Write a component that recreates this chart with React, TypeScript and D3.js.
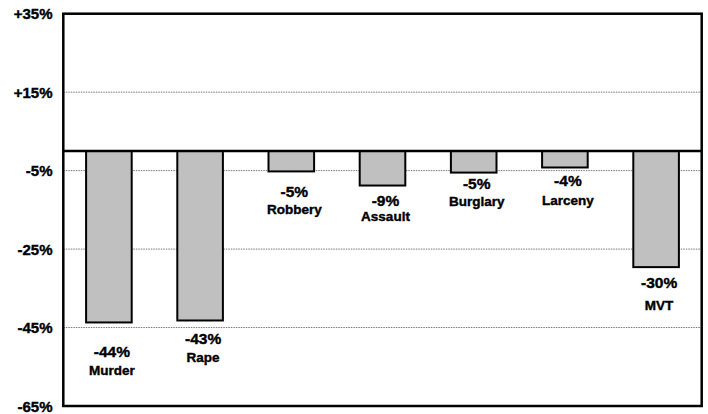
import React from "react";
import * as d3 from "d3";

const categories = ["Murder", "Rape", "Robbery", "Assault", "Burglary", "Larceny", "MVT"];
const values = [-43.7, -43.2, -5.2, -8.8, -5.5, -4.2, -29.6];
const valueLabels = ["-44%", "-43%", "-5%", "-9%", "-5%", "-4%", "-30%"];
// label anchor positions, in the chart's percent units
const valueLabelAt = [-51.2, -47.8, -10.2, -12.7, -8.2, -7.6, -33.6];
const nameLabelAt = [-56.0, -52.6, -14.8, -16.6, -12.9, -12.7, -39.4];
const yTicks = [35, 15, -5, -25, -45, -65];
const yTickLabels = ["+35%", "+15%", "-5%", "-25%", "-45%", "-65%"];

const W = 708;
const H = 414;
const M = { left: 63.3, right: 6.3, top: 13.7, bottom: 8 };

export default function App() {
  const x = d3
    .scaleBand<string>()
    .domain(categories)
    .range([M.left, W - M.right])
    .paddingInner(0.5)
    .paddingOuter(0.25);
  const y = d3.scaleLinear().domain([-65, 35]).range([H - M.bottom, M.top]);
  const font = "'Liberation Sans', Arial, Helvetica, sans-serif";
  const cx = (c: string) => (x(c) as number) + x.bandwidth() / 2;
  const ts = { fontFamily: font, fontWeight: 700 as const };

  return (
    <svg
      width={W}
      height={H}
      style={{ position: "absolute", left: 0, top: 0, background: "#fff" }}
    >
      <rect x={0} y={0} width={W} height={H} fill="#fff" />
      {yTicks
        .filter((t) => t !== 35 && t !== -65)
        .map((t) => (
          <line
            key={"g" + t}
            x1={M.left}
            x2={W - M.right}
            y1={y(t)}
            y2={y(t)}
            stroke="#777"
            strokeWidth={1}
            strokeDasharray="1.5,1"
          />
        ))}
      {categories.map((c, i) => (
        <rect
          key={"b" + c}
          x={x(c)}
          y={y(0)}
          width={x.bandwidth()}
          height={y(values[i]) - y(0)}
          fill="#c0c0c0"
          stroke="#000"
          strokeWidth={2}
        />
      ))}
      <line x1={M.left} x2={W - M.right} y1={y(0)} y2={y(0)} stroke="#000" strokeWidth={2.6} />
      <rect
        x={M.left}
        y={M.top}
        width={W - M.left - M.right}
        height={H - M.top - M.bottom}
        fill="none"
        stroke="#000"
        strokeWidth={2.5}
      />
      <g stroke="#000" strokeWidth={0.4} fill="#000">
        {yTicks.map((t, i) => (
          <text
            key={"t" + t}
            x={52.5}
            y={y(t)}
            textAnchor="end"
            dominantBaseline="central"
            fontSize={15}
            style={ts}
          >
            {yTickLabels[i]}
          </text>
        ))}
        {categories.map((c, i) => (
          <text
            key={"v" + c}
            x={cx(c) + 3}
            y={y(valueLabelAt[i])}
            textAnchor="middle"
            dominantBaseline="central"
            fontSize={15.5}
            style={ts}
          >
            {valueLabels[i]}
          </text>
        ))}
        {categories.map((c, i) => (
          <text
            key={"n" + c}
            x={cx(c) + 3}
            y={y(nameLabelAt[i])}
            textAnchor="middle"
            dominantBaseline="central"
            fontSize={13.5}
            style={ts}
          >
            {c}
          </text>
        ))}
      </g>
    </svg>
  );
}
